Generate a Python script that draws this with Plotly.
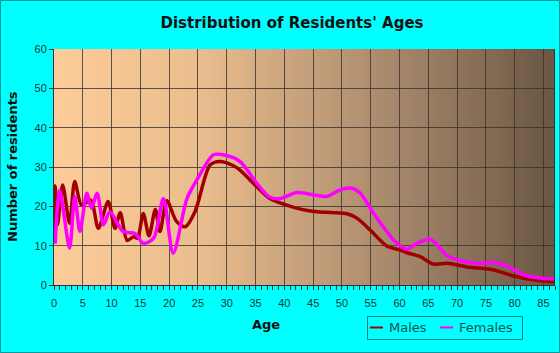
import base64
import struct
import zlib
import plotly.graph_objects as go

# ---- data ----
male_age = [0, 0.2, 0.6, 1.5, 2.7, 3.6, 4.8, 6.4, 7.7, 9.4, 10.6, 11.5, 12.7, 13.8, 14.5,
            15.5, 16.5, 17.6, 18.4, 19.6, 21.3, 22.8, 24.5, 27.1, 28.8, 30.9, 32.3, 35.2,
            37.5, 40.4, 42.8, 45.7, 48.5, 50.9, 52.6, 54.9, 57.8, 60.1, 61.3, 63.6, 65.9,
            68.3, 71.7, 76.4, 79.8, 83.3, 87]
male_val = [14, 25.2, 15.3, 25.4, 15.7, 26.3, 20.3, 21.6, 14.4, 21.2, 14.4, 18.4, 11.3, 12.3, 11.9,
            18.2, 12.5, 19.2, 13.6, 21.4, 16.1, 14.8, 18.7, 30.5, 31.4, 30.5, 29.2, 25.0,
            22.0, 20.3, 19.3, 18.6, 18.4, 18.1, 17.0, 14.0, 9.9, 8.9, 8.2, 7.2, 5.3,
            5.5, 4.6, 3.8, 2.3, 1.3, 0.8]

female_age = [0.2, 1.0, 2.7, 3.6, 4.5, 5.7, 6.5, 7.5, 8.6, 9.7, 12, 14.1, 15.5, 17.3, 19,
              20.7, 23.1, 24.8, 27.7, 29.4, 32.3, 35.2, 37.5, 39.3, 42.2, 45.1, 47.4, 49.7,
              51.7, 53.2, 55.5, 57.8, 59, 61.3, 63, 65.4, 68.3, 70.6, 73.5, 76.4, 78.7,
              82.2, 87]
female_val = [10.5, 24.0, 9.4, 22.5, 13.6, 23.3, 19.5, 23.3, 15.3, 18.6, 13.6, 13.1, 10.6, 11.9, 22.0,
              8.1, 22.0, 26.7, 33.1, 33.1, 31.4, 25.9, 22.3, 22.0, 23.5, 22.9, 22.5, 24.2,
              24.6, 23.3, 18.2, 13.6, 11.4, 9.1, 10.6, 11.6, 7.4, 6.2, 5.5, 5.7, 4.8,
              2.3, 1.5]

x_ticks = list(range(0, 90, 5))
y_ticks = list(range(0, 70, 10))

X_MAX = 87
Y_MAX = 60

# ---- background gradient image (colour stops along the age axis) ----
grad_stops = [(0, (252, 204, 153)), (25, (235, 190, 142)), (60, (165, 134, 106)), (87, (106, 86, 66))]


def grad_rgb(a):
    for (a0, c0), (a1, c1) in zip(grad_stops[:-1], grad_stops[1:]):
        if a0 <= a <= a1:
            t = (a - a0) / (a1 - a0)
            return [round(c0[i] + (c1[i] - c0[i]) * t) for i in range(3)]
    return list(grad_stops[-1][1])


def png_data_uri(width, height, pixel_fn):
    raw = b""
    for _ in range(height):
        row = b"\x00"
        for i in range(width):
            row += bytes(pixel_fn(i))
        raw += row

    def chunk(tag, data):
        c = struct.pack(">I", len(data)) + tag + data
        return c + struct.pack(">I", zlib.crc32(tag + data) & 0xFFFFFFFF)

    png = b"\x89PNG\r\n\x1a\n"
    png += chunk(b"IHDR", struct.pack(">IIBBBBB", width, height, 8, 2, 0, 0, 0))
    png += chunk(b"IDAT", zlib.compress(raw, 9))
    png += chunk(b"IEND", b"")
    return "data:image/png;base64," + base64.b64encode(png).decode()


GW = 501
grad_uri = png_data_uri(GW, 2, lambda i: grad_rgb(X_MAX * (i + 0.5) / GW))

W, H = 560, 353
L, R, T, B = 54, 5, 49, 68
pw, ph = W - L - R, H - T - B


def px(xp):
    return (xp - L) / pw


def py(yp):
    return (ph + T - yp) / ph


shapes = []
# right edge dark line of plot area
shapes.append(dict(type="line", xref="x", yref="y", x0=X_MAX, x1=X_MAX, y0=0, y1=Y_MAX,
                   line=dict(color="rgb(60,45,35)", width=2), layer="above"))
# outer border of the image
shapes.append(dict(type="rect", xref="paper", yref="paper",
                   x0=px(0.5), x1=px(W - 0.5), y0=py(H - 0.5), y1=py(0.5),
                   line=dict(color="#009999", width=1), fillcolor="rgba(0,0,0,0)", layer="above"))

# manual legend box and samples
male_color = "#a00000"
female_color = "#ff00ff"
shapes.append(dict(type="rect", xref="paper", yref="paper",
                   x0=px(367.5), x1=px(522.5), y0=py(339.5), y1=py(316.5),
                   line=dict(color="#008080", width=1), fillcolor="rgba(0,0,0,0)", layer="above"))
shapes.append(dict(type="line", xref="paper", yref="paper", x0=px(370), x1=px(383),
                   y0=py(327.5), y1=py(327.5), line=dict(color=male_color, width=2)))
shapes.append(dict(type="line", xref="paper", yref="paper", x0=px(440), x1=px(453),
                   y0=py(327.5), y1=py(327.5), line=dict(color=female_color, width=2)))

fig = go.Figure()
fig.add_trace(go.Scatter(x=male_age, y=male_val, name="Males", mode="lines", showlegend=False,
                         line=dict(color=male_color, width=3.5, shape="spline", smoothing=0.8)))
fig.add_trace(go.Scatter(x=female_age, y=female_val, name="Females", mode="lines", showlegend=False,
                         line=dict(color=female_color, width=3.5, shape="spline", smoothing=0.8)))

txt = "#113838"
legend_font = dict(family="DejaVu Sans", size=13, color="#115050")
fig.update_layout(
    width=W, height=H,
    margin=dict(l=L, r=R, t=T, b=B),
    paper_bgcolor="#00ffff",
    plot_bgcolor="rgba(0,0,0,0)",
    shapes=shapes,
    images=[dict(source=grad_uri, xref="x", yref="y", x=0, y=Y_MAX, sizex=X_MAX, sizey=Y_MAX,
                 sizing="stretch", layer="below", xanchor="left", yanchor="top")],
    font=dict(family="Liberation Sans, Arial", size=11, color=txt),
    title=dict(text="<b>Distribution of Residents' Ages</b>", x=292 / W, xanchor="center",
               y=1 - 23 / H, yanchor="middle",
               font=dict(family="DejaVu Sans", size=15, color="#111111")),
    xaxis=dict(range=[0, X_MAX], tickvals=x_ticks, ticktext=[str(v) for v in x_ticks],
               showgrid=True, gridcolor="rgba(55,50,45,0.8)", gridwidth=1,
               ticks="outside", ticklen=4, tickcolor="#333333", tickwidth=1,
               minor=dict(dtick=1, ticks="outside", ticklen=4, tickcolor="#333333", showgrid=False),
               showline=True, linecolor="#333333", linewidth=1, zeroline=False,
               ticklabelstandoff=4,
               tickfont=dict(size=11, color=txt)),
    yaxis=dict(range=[0, Y_MAX], tickvals=y_ticks,
               showgrid=True, gridcolor="rgba(55,50,45,0.8)", gridwidth=1,
               ticks="outside", ticklen=4, tickcolor="#333333",
               showline=True, linecolor="#333333", linewidth=1, zeroline=False,
               tickfont=dict(size=11, color=txt)),
    showlegend=False,
    annotations=[
        dict(text="<b>Number of residents</b>", xref="paper", yref="paper",
             x=px(12), y=py(167), xanchor="center", yanchor="middle",
             textangle=-90, showarrow=False,
             font=dict(family="DejaVu Sans", size=13, color="#111111")),
        dict(text="<b>Age</b>", xref="paper", yref="paper",
             x=px(266), y=py(324), xanchor="center", yanchor="middle",
             showarrow=False, font=dict(family="DejaVu Sans", size=13, color="#111111")),
        dict(text="Males", xref="paper", yref="paper", x=px(387), y=py(327.5),
             xanchor="left", yanchor="middle", showarrow=False, font=legend_font),
        dict(text="Females", xref="paper", yref="paper", x=px(457), y=py(327.5),
             xanchor="left", yanchor="middle", showarrow=False, font=legend_font),
    ],
)

fig.write_html("out.html")
